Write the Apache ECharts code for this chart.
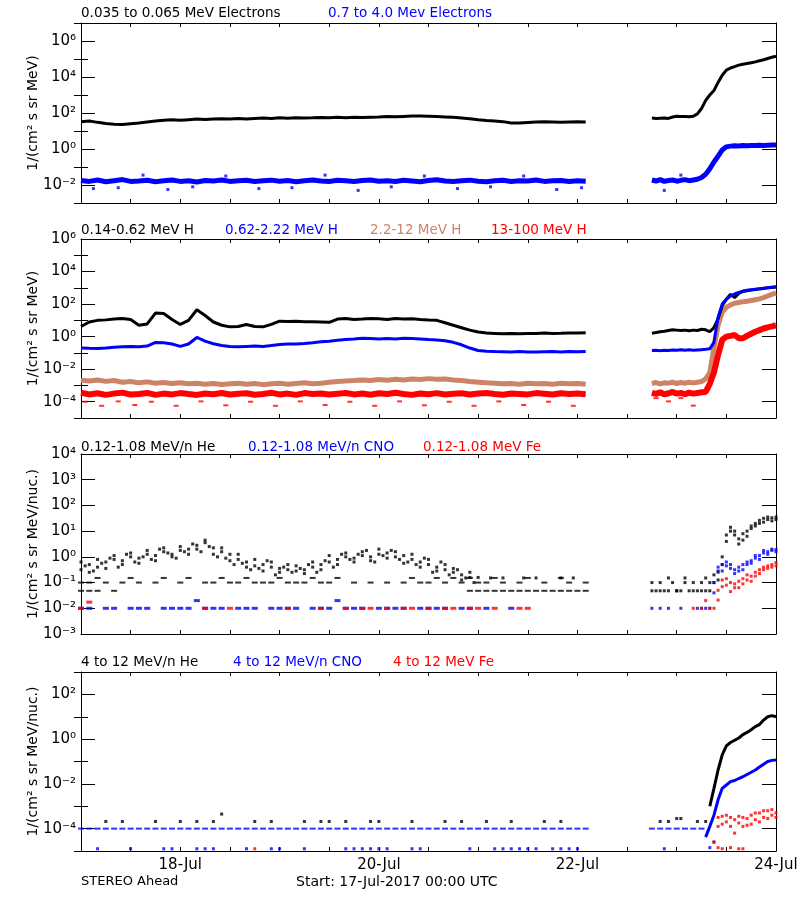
<!DOCTYPE html>
<html><head><meta charset="utf-8">
<script src="https://cdn.jsdelivr.net/npm/echarts@6/dist/echarts.min.js"></script>
<style>html,body{margin:0;padding:0;background:#fff}#c{width:800px;height:900px}</style>
</head><body><div id="c"></div>
<script>
// ---------- time grids (hours since 17-Jul-2017 00:00 UTC) ----------
const T1 = [0,2,4,6,8,10,12,14,16,18,20,22,24,26,28,30,32,34,36,38,40,42,44,46,48,50,52,54,56,58,60,62,64,66,68,70,72,74,76,78,80,82,84,86,88,90,92,94,96,98,100,102,104,106,108,110,112,114,116,118,120,122];
const T1odd = [1,3,5,7,9,11,13,15,17,19,21,23,25,27,29,31,33,35,37,39,41,43,45,47,49,51,53,55,57,59,61,63,65,67,69,71,73,75,77,79,81,83,85,87,89,91,93,95,97,99,101,103,105,107,109,111,113,115,117,119,121];
const T2 = [138,139,140,141,142,143,144,145,146,147,148,149,150,151,152,153,154,155,156,157,158,159,160,161,162,163,164,165,166,167,168];
const xTickLabels = ['18-Jul','20-Jul','22-Jul','24-Jul'];
const xTickHours = [24,72,120,168];

// ---------- values: log10 of flux ----------
// Panel 1: electrons
const e1A = [1.52,1.55,1.48,1.42,1.38,1.36,1.40,1.44,1.50,1.56,
 1.60,1.62,1.60,1.63,1.66,1.64,1.66,1.68,1.66,1.69,
 1.67,1.70,1.72,1.70,1.73,1.71,1.74,1.72,1.73,1.75,
 1.74,1.76,1.74,1.76,1.75,1.77,1.78,1.80,1.79,1.81,
 1.83,1.84,1.82,1.80,1.78,1.76,1.72,1.68,1.62,1.58,
 1.55,1.52,1.45,1.44,1.47,1.50,1.52,1.50,1.48,1.50,
 1.52,1.50];
const e1B = [1.72,1.70,1.71,1.72,1.70,1.78,1.82,1.80,1.81,1.79,
 1.82,1.95,2.25,2.70,3.00,3.25,3.70,4.10,4.38,4.50,
 4.58,4.66,4.71,4.75,4.79,4.84,4.90,4.96,5.03,5.10,
 5.15];
const e2A = [-1.75,-1.80,-1.72,-1.82,-1.76,-1.70,-1.80,-1.78,-1.74,-1.82,
 -1.77,-1.72,-1.80,-1.76,-1.83,-1.75,-1.78,-1.72,-1.80,-1.76,
 -1.74,-1.81,-1.77,-1.73,-1.79,-1.75,-1.82,-1.76,-1.72,-1.78,
 -1.80,-1.74,-1.77,-1.81,-1.75,-1.72,-1.79,-1.76,-1.80,-1.74,
 -1.78,-1.82,-1.75,-1.71,-1.78,-1.80,-1.76,-1.73,-1.79,-1.82,
 -1.77,-1.74,-1.80,-1.76,-1.78,-1.72,-1.80,-1.77,-1.75,-1.81,
 -1.76,-1.79];
const e2B = [-1.72,-1.78,-1.70,-1.80,-1.75,-1.72,-1.79,-1.74,-1.70,-1.76,
 -1.72,-1.68,-1.58,-1.40,-1.10,-0.72,-0.40,-0.05,0.12,0.16,
 0.18,0.17,0.19,0.18,0.20,0.19,0.21,0.20,0.21,0.22,
 0.22];
const e2OutH = [3,9,15,21,27,35,43,51,59,67,75,83,91,99,107,115,121,141,145];
const e2OutV = [-2.2,-2.15,-1.45,-2.25,-2.1,-1.5,-2.2,-2.15,-1.45,-2.3,-2.1,-1.5,-2.2,-2.1,-1.5,-2.25,-2.15,-2.3,-1.45];

// Panel 2: protons
const h1A = [0.62,0.90,1.00,1.03,1.08,1.12,1.05,0.70,0.78,1.45,
 1.42,1.05,0.75,1.00,1.65,1.30,0.90,0.70,0.60,0.62,
 0.75,0.62,0.60,0.75,0.95,0.93,0.95,0.92,0.92,0.90,
 0.88,1.08,1.12,1.05,1.08,1.12,1.10,1.05,1.12,1.08,
 1.10,1.05,1.02,1.00,0.85,0.70,0.55,0.40,0.28,0.22,
 0.20,0.18,0.20,0.17,0.19,0.20,0.22,0.20,0.21,0.23,
 0.22,0.24];
const h1B = [0.21,0.25,0.30,0.33,0.38,0.42,0.40,0.38,0.40,0.36,
 0.40,0.38,0.45,0.42,0.30,0.55,1.10,1.90,2.30,2.60,
 2.40,2.65,2.78,2.82,2.86,2.90,2.93,2.96,3.00,3.02,
 3.05];
const h2A = [-0.70,-0.72,-0.73,-0.70,-0.65,-0.62,-0.60,-0.62,-0.58,-0.36,
 -0.38,-0.45,-0.60,-0.45,-0.05,-0.28,-0.44,-0.55,-0.60,-0.62,
 -0.60,-0.58,-0.60,-0.55,-0.48,-0.46,-0.45,-0.42,-0.38,-0.32,
 -0.28,-0.22,-0.18,-0.15,-0.10,-0.12,-0.15,-0.12,-0.15,-0.10,
 -0.12,-0.15,-0.18,-0.20,-0.25,-0.35,-0.50,-0.70,-0.85,-0.90,
 -0.92,-0.93,-0.95,-0.92,-0.94,-0.95,-0.93,-0.92,-0.94,-0.92,
 -0.93,-0.92];
const h2B = [-0.85,-0.84,-0.86,-0.83,-0.85,-0.82,-0.84,-0.80,-0.83,-0.81,
 -0.84,-0.82,-0.80,-0.78,-0.75,-0.35,1.20,2.00,2.30,2.50,
 2.62,2.72,2.80,2.85,2.88,2.92,2.95,2.98,3.00,3.04,
 3.07];
const h3A = [-2.68,-2.72,-2.66,-2.75,-2.70,-2.80,-2.76,-2.84,-2.78,-2.86,
 -2.82,-2.88,-2.84,-2.90,-2.86,-2.92,-2.88,-2.94,-2.90,-2.86,
 -2.92,-2.88,-2.95,-2.90,-2.86,-2.92,-2.88,-2.84,-2.90,-2.86,
 -2.80,-2.76,-2.72,-2.70,-2.66,-2.70,-2.64,-2.68,-2.62,-2.66,
 -2.60,-2.64,-2.58,-2.62,-2.60,-2.66,-2.70,-2.76,-2.80,-2.84,
 -2.86,-2.90,-2.88,-2.92,-2.86,-2.90,-2.88,-2.92,-2.86,-2.90,
 -2.88,-2.92];
const h3B = [-2.88,-2.82,-2.90,-2.84,-2.86,-2.80,-2.88,-2.82,-2.86,-2.80,
 -2.84,-2.80,-2.76,-2.60,-2.20,-0.70,0.70,1.50,1.80,1.95,
 2.05,2.10,2.15,2.18,2.22,2.27,2.32,2.40,2.50,2.60,
 2.69];
const h4A = [-3.45,-3.55,-3.48,-3.58,-3.50,-3.44,-3.56,-3.52,-3.46,-3.58,
 -3.50,-3.55,-3.47,-3.53,-3.58,-3.49,-3.54,-3.46,-3.56,-3.51,
 -3.48,-3.57,-3.52,-3.45,-3.55,-3.50,-3.58,-3.47,-3.53,-3.49,
 -3.56,-3.51,-3.46,-3.55,-3.50,-3.57,-3.48,-3.53,-3.45,-3.52,
 -3.58,-3.49,-3.54,-3.47,-3.56,-3.51,-3.48,-3.55,-3.50,-3.46,
 -3.53,-3.57,-3.49,-3.52,-3.55,-3.47,-3.51,-3.56,-3.48,-3.53,
 -3.50,-3.54];
const h4B = [-3.45,-3.52,-3.42,-3.55,-3.48,-3.40,-3.50,-3.46,-3.54,-3.44,
 -3.50,-3.46,-3.42,-3.40,-2.90,-2.20,-1.12,-0.20,0.00,0.05,
 0.10,-0.10,-0.10,0.05,0.18,0.30,0.40,0.50,0.57,0.63,
 0.70];
const h4OutH = [1,5,9,13,17,23,29,35,41,47,53,59,65,71,77,83,89,95,101,107,113,119,139,142,145,148];
const h4OutV = [-4.0,-4.25,-3.98,-4.2,-4.0,-4.25,-3.98,-4.22,-4.0,-4.25,-3.98,-4.2,-4.0,-4.25,-3.98,-4.22,-4.0,-4.25,-3.98,-4.2,-4.0,-4.25,-3.78,-3.98,-3.78,-4.24];

// Panel 3: 0.12-1.08 MeV/n ions
const heA = [-0.50,-0.30,-0.40,-0.20,-0.10,-0.15,0.00,-0.05,0.10,0.05,
 0.20,0.10,0.25,0.30,0.45,0.55,0.35,0.20,0.10,-0.10,
 -0.20,-0.35,-0.30,-0.40,-0.45,-0.50,-0.55,-0.50,-0.40,-0.30,
 -0.20,-0.10,0.00,-0.05,0.05,0.00,0.10,0.15,0.20,0.05,
 -0.10,-0.20,-0.30,-0.40,-0.50,-0.60,-0.70,-0.80,null,null,
 null,null,null,null,null,null,null,null,null,null,
 null,null];
const heB = [-0.20,-0.60,-0.10,-0.45,0.05,-0.30,0.15,-0.25,0.25,-0.15,
 0.35,0.00,0.40,0.10,0.30,0.65,0.10,0.35,-0.15,0.10,
 -0.40,-0.10,-0.55,-0.20,-0.60,-0.30,-0.35,-0.65,-0.20,-0.50,
 0.05,-0.30,0.15,-0.20,0.20,-0.15,0.30,-0.05,0.00,-0.25,
 0.10,-0.40,-0.10,-0.55,-0.30,-0.45,-0.90,-0.60,-0.80,null,
 null,-0.82,null,null,null,-0.82,null,null,-0.82,null,
 null,null];
const heC = [-0.35,-0.55,-0.25,-0.05,-0.40,0.10,-0.20,0.00,-0.10,0.30,
 0.15,-0.05,0.20,0.50,0.20,0.40,0.00,-0.05,-0.30,-0.25,
 -0.50,-0.45,-0.15,-0.70,-0.40,-0.60,-0.45,-0.30,-0.60,-0.15,
 -0.40,0.10,-0.10,0.10,0.25,-0.20,0.05,0.25,-0.10,-0.20,
 -0.30,-0.05,-0.60,-0.20,-0.70,-0.50,-0.82,-1.00,null,-0.82,
 null,null,null,-0.82,null,null,null,null,null,-0.82,
 null];
const heLowA = [-1.00,-1.00,-0.82,-1.00,null,-1.00,-0.82,-1.00,null,-1.00,
 -0.82,null,-1.00,-0.82,null,-1.00,-1.00,-0.82,-1.00,-1.00,
 -0.82,-1.00,-1.00,-1.00,-0.82,-1.00,-1.00,-1.00,-0.82,-1.00,
 -1.00,-0.82,null,-1.00,null,-1.00,null,-1.00,null,-1.00,
 -0.82,-1.00,-1.00,-0.82,-1.00,-0.82,-1.00,-0.82,-1.00,-1.32,
 -1.32,-1.32,-1.32,-1.32,-1.32,-1.32,-1.32,-1.32,-1.32,-1.32,
 -1.32,-1.32];
const heLowB = [-1.32,-1.32,-1.32,null,-1.32,null,null,null,null,null,
 null,null,null,null,null,null,null,null,null,null,
 null,null,null,null,null,null,null,null,null,null,
 null,null,null,null,null,null,null,null,null,null,
 null,null,null,null,null,null,null,-1.32,-1.32,-1.00,
 -0.82,-1.00,null,-1.00,-0.82,null,-1.00,null,-0.82,-1.00,
 null,-1.00];
const cnoA = [-2,-2,null,-2,-2,null,-2,-2,-2,null,
 -2,-2,-2,-2,-1.7,-2,-2,-2,null,-2,
 -2,-2,null,-2,-2,-2,-2,null,-2,-2,
 -2,-1.7,-2,-2,-2,null,-2,-2,-2,-2,
 null,-2,-2,-2,-2,null,-2,-2,null,-2,
 null,null,-2,null,null,null,null,null,null,null,
 null,null];
const feA = [-2,-1.76,null,null,null,null,null,null,null,null,
 null,null,null,null,null,-2,null,null,-2,null,
 null,null,null,null,null,-2,null,null,null,-2,
 null,null,-2,null,-2,-2,null,-2,null,-2,
 -2,null,-2,null,-2,-2,null,-2,-2,null,
 -2,null,null,-2,-2,null,null,null,null,null,
 null,null];
const heA2 = [-1.32,-1.32,-1.00,-1.32,-1.32,-1.00,-1.32,-1.32,-1.00,-1.32,
 -1.32,-1.32,-1.00,-1.32,-1.00,-1.00,-0.55,0.00,0.85,1.15,
 1.00,0.70,0.65,1.00,1.10,1.30,1.42,1.50,1.45,1.52,
 1.55];
const heB2 = [-1.00,null,-1.32,null,-0.82,null,-1.32,null,-0.82,null,
 -1.00,null,-1.32,-0.82,-1.32,-0.70,-0.90,-0.30,0.60,1.00,
 0.85,0.50,0.90,0.80,1.20,1.20,1.30,1.35,1.55,1.40,
 1.45];
const cnoA2 = [-2,null,-2,null,-2,null,null,-2,null,null,
 null,-2,-2,-2,-2,-1.40,-0.60,-0.30,-0.20,-0.45,
 -0.50,-0.40,-0.30,-0.20,-0.15,-0.05,0.05,0.15,0.20,0.25,
 0.28];
const cnoB2 = [null,null,null,null,null,null,null,null,null,null,
 null,null,null,null,null,-1.00,-0.40,-0.55,-0.35,-0.30,
 -0.65,-0.55,-0.50,-0.30,-0.25,0.05,-0.10,0.25,0.10,0.30,
 0.20];
const feA2 = [null,null,null,null,null,null,null,null,null,null,
 -2,null,-2,-1.70,-2,-2,-1.68,-1.16,-0.85,-1.00,
 -1.20,-0.95,-0.85,-0.90,-0.75,-0.60,-0.50,-0.40,-0.35,-0.30,
 -0.22];
const feB2 = [null,null,null,null,null,null,null,null,null,null,
 null,null,null,null,null,null,-1.30,-0.90,-1.10,-1.35,
 -1.05,-1.20,-1.05,-0.70,-0.95,-0.75,-0.65,-0.50,-0.45,-0.40,
 -0.35];

// Panel 4: 4-12 MeV/n ions
const he4Floor = [null,null,null,-3.68,null,-3.68,null,null,null,-3.68,
 null,null,-3.68,null,-3.68,null,-3.68,-3.35,null,null,
 null,-3.68,null,-3.68,null,null,null,-3.68,null,-3.68,
 -3.68,null,-3.68,null,null,-3.68,-3.68,null,null,null,
 -3.68,null,null,null,-3.68,null,-3.68,null,null,-3.68,
 null,null,-3.68,null,null,null,-3.68,null,-3.68,null,
 null,null];
const he4FloorH2 = [140,142,144,145,149,151];
const he4FloorV2 = [-3.68,-3.68,-3.55,-3.55,-3.68,-3.68];
const he4Line = [null,null,null,null,null,null,null,null,null,null,
 null,null,null,null,-3.00,-2.20,-1.38,-0.70,-0.30,-0.15,
 -0.05,0.05,0.20,0.30,0.42,0.56,0.65,0.85,1.00,1.05,
 1.00];
const cno4Floor = [-4,-4,-4,-4,-4,-4,-4,-4,-4,-4,
 -4,-4,-4,-4,-4,-4,-4,-4,-4,-4,
 -4,-4,-4,-4,-4,-4,-4,-4,-4,-4,
 -4,-4,-4,-4,-4,-4,-4,-4,-4,-4,
 -4,-4,-4,-4,-4,-4,-4,-4,-4,-4,
 -4,-4,-4,-4,-4,-4,-4,-4,-4,-4,
 -4,-4];
const cno4FloorH2 = [138,140,142,144,146,148,150];
const cno4FloorV2 = [-4,-4,-4,-4,-4,-4,-4];
const cno4Line = [null,null,null,null,null,null,null,null,null,null,
 null,null,null,-4.38,-3.90,-3.40,-2.71,-2.20,-2.05,-1.90,
 -1.85,-1.76,-1.68,-1.58,-1.48,-1.38,-1.25,-1.12,-1.00,-0.95,
 -0.93];
const cno4LowH = [4,12,20,22,28,30,32,40,46,48,54,64,66,68,70,72,74,80,82,94,100,102,104,106,108,110,114,116,118,120,141,152,153];
const cno4LowV = [-4.9,-4.9,-4.9,-4.9,-4.9,-4.9,-4.9,-4.9,-4.9,-4.9,-4.9,-4.9,-4.9,-4.9,-4.9,-4.9,-4.9,-4.9,-4.9,-4.9,-4.9,-4.9,-4.9,-4.9,-4.9,-4.9,-4.9,-4.9,-4.9,-4.9,-4.9,-4.85,-4.6];
const fe4A2 = [null,null,null,null,null,null,null,null,null,null,
 null,null,null,null,null,-4.60,-3.50,-3.80,-3.40,-3.90,
 -3.60,-3.75,-3.50,-3.85,-3.40,-3.60,-3.30,-3.50,-3.20,-3.40,
 -3.30];
const fe4B2 = [null,null,null,null,null,null,null,null,null,null,
 null,null,null,null,null,null,-3.90,-3.45,-3.70,-3.50,
 -4.20,-3.45,-3.90,-3.55,-3.80,-3.30,-3.70,-3.20,-3.55,-3.15,
 -3.50];
const fe4LowH = [42,154,155,157,159,160];
const fe4LowV = [-4.9,-4.85,-4.9,-4.85,-4.9,-4.9];

// ---------- chart ----------
const FONT = 'DejaVu Sans';
const BLUE = '#0000ff', RED = '#ff0000', TAN = '#cd8466', BLACK = '#000000';
const SUP = {'0':'\u2070','1':'\u00b9','2':'\u00b2','3':'\u00b3','4':'\u2074','5':'\u2075','6':'\u2076','7':'\u2077','8':'\u2078','9':'\u2079','-':'\u207b'};
const powLabel = v => '10' + String(Math.round(v)).split('').map(c => SUP[c]).join('');
const xLabel = v => { const i = xTickHours.indexOf(Math.round(v)); return i >= 0 ? xTickLabels[i] : ''; };

const PANELS = [
  {top: 23, height: 180, lo: -3, hi: 7, major: [-2,0,2,4,6], minor: [-3,-1,1,3,5,7], name: '1/(cm\u00b2 s sr MeV)'},
  {top: 239, height: 179, lo: -5, hi: 6, major: [-4,-2,0,2,4,6], minor: [-5,-3,-1,1,3,5], name: '1/(cm\u00b2 s sr MeV)'},
  {top: 454, height: 180, lo: -3, hi: 4, major: [-3,-2,-1,0,1,2,3,4], minor: [], name: '1/(cm\u00b2 s sr MeV/nuc.)'},
  {top: 672, height: 179, lo: -5, hi: 3, major: [-4,-2,0,2], minor: [-5,-3,-1,1,3], name: '1/(cm\u00b2 s sr MeV/nuc.)'}
];

const grid = [], xAxis = [], yAxis = [];
PANELS.forEach((p, i) => {
  grid.push({left: 81, right: 24, top: p.top, height: p.height, containLabel: false, outerBoundsMode: 'none'});
  const xBase = {type: 'value', gridIndex: i, min: 0, max: 168, interval: 12,
    axisLine: {show: true, onZero: false, lineStyle: {color: BLACK, width: 1}},
    axisTick: {show: true, inside: true, length: 4, lineStyle: {color: BLACK}},
    splitLine: {show: false}};
  xAxis.push(Object.assign({}, xBase, {position: 'bottom',
    axisLabel: {show: i === 3, formatter: xLabel, color: BLACK, fontSize: 15, fontFamily: FONT, margin: 7, showMinLabel: true, showMaxLabel: true}}));
  xAxis.push(Object.assign({}, xBase, {position: 'top', axisLabel: {show: false}}));
  const yBase = {type: 'value', gridIndex: i, min: p.lo, max: p.hi, interval: 1, splitLine: {show: false}};
  ['left', 'right'].forEach(side => {
    yAxis.push(Object.assign({}, yBase, {position: side,
      axisLine: {show: true, onZero: false, lineStyle: {color: BLACK, width: 1}},
      axisTick: {show: true, inside: true, length: 14, customValues: p.major, lineStyle: {color: BLACK}},
      axisLabel: side === 'left' ? {show: true, customValues: p.major, formatter: powLabel, color: BLACK, fontSize: 15, fontFamily: FONT, margin: 5} : {show: false},
      name: side === 'left' ? p.name : '', nameLocation: 'middle', nameGap: 41, nameRotate: 90, nameMoveOverlap: false,
      nameTextStyle: {color: BLACK, fontSize: 14, fontFamily: FONT}}));
    yAxis.push(Object.assign({}, yBase, {position: side,
      axisLine: {show: false},
      axisTick: {show: p.minor.length > 0, inside: true, length: 7, customValues: p.minor.length ? p.minor : [p.lo], lineStyle: {color: BLACK}},
      axisLabel: {show: false}}));
  });
});

function lineData(A, B) {
  const d = T1.map((t, k) => [t, A[k] === null ? '-' : A[k]]);
  d.push([130, '-']);
  T2.forEach((t, k) => d.push([t, B[k] === null ? '-' : B[k]]));
  return d;
}
function pts(T, V) { const d = []; T.forEach((t, k) => { if (V[k] !== null && V[k] !== undefined) d.push([t, V[k]]); }); return d; }

function lineS(g, data, color, width) {
  return {type: 'line', xAxisIndex: 2 * g, yAxisIndex: 4 * g, data, symbol: 'none', showSymbol: false,
    connectNulls: false, lineStyle: {color, width}, itemStyle: {color}, animation: false, silent: true};
}
function dotS(g, data, color, size) {
  return {type: 'scatter', xAxisIndex: 2 * g, yAxisIndex: 4 * g, data, symbol: 'rect', symbolSize: size,
    itemStyle: {color}, animation: false, silent: true};
}

const series = [
  // panel 1
  lineS(0, lineData(e2A, e2B), BLUE, 5),
  dotS(0, pts(e2OutH, e2OutV), BLUE, [3, 3]),
  lineS(0, lineData(e1A, e1B), BLACK, 3),
  // panel 2
  lineS(1, lineData(h3A, h3B), TAN, 5),
  lineS(1, lineData(h4A, h4B), RED, 6),
  dotS(1, pts(h4OutH, h4OutV), RED, [5, 2]),
  lineS(1, lineData(h1A, h1B), BLACK, 3),
  lineS(1, lineData(h2A, h2B), BLUE, 3),
  // panel 3
  dotS(2, pts(T1, heA).concat(pts(T1, heB), pts(T1odd, heC), pts(T2, heA2), pts(T2, heB2)), BLACK, [3, 3]),
  dotS(2, pts(T1, heLowA).concat(pts(T1, heLowB)), BLACK, [6, 2]),
  dotS(2, pts(T1, cnoA), BLUE, [6, 3]),
  dotS(2, pts(T2, cnoA2).concat(pts(T2, cnoB2)), BLUE, [3, 3]),
  dotS(2, pts(T1, feA), RED, [6, 3]),
  dotS(2, pts(T2, feA2).concat(pts(T2, feB2)), RED, [3, 3]),
  // panel 4
  dotS(3, pts(T1, cno4Floor).concat(pts(cno4FloorH2, cno4FloorV2)), BLUE, [6, 2]),
  dotS(3, pts(cno4LowH, cno4LowV), BLUE, [3, 3]),
  dotS(3, pts(T1, he4Floor).concat(pts(he4FloorH2, he4FloorV2)), BLACK, [3, 3]),
  lineS(3, lineData(T1.map(() => null), he4Line), BLACK, 3),
  lineS(3, lineData(T1.map(() => null), cno4Line), BLUE, 3),
  dotS(3, pts(T2, fe4A2).concat(pts(T2, fe4B2), pts(fe4LowH, fe4LowV)), RED, [3, 3])
];

function ttl(text, left, top, color, size) {
  return {text, left, top, padding: 0, textStyle: {color, fontSize: size || 13.5, fontWeight: 'normal', fontFamily: FONT}};
}
const title = [
  ttl('0.035 to 0.065 MeV Electrons', 81, 6, BLACK),
  ttl('0.7 to 4.0 Mev Electrons', 328, 6, BLUE),
  ttl('0.14-0.62 MeV H', 81, 223, BLACK),
  ttl('0.62-2.22 MeV H', 225, 223, BLUE),
  ttl('2.2-12 MeV H', 370, 223, TAN),
  ttl('13-100 MeV H', 491, 223, RED),
  ttl('0.12-1.08 MeV/n He', 81, 440, BLACK),
  ttl('0.12-1.08 MeV/n CNO', 248, 440, BLUE),
  ttl('0.12-1.08 MeV Fe', 423, 440, RED),
  ttl('4 to 12 MeV/n He', 81, 655, BLACK),
  ttl('4 to 12 MeV/n CNO', 233, 655, BLUE),
  ttl('4 to 12 MeV Fe', 393, 655, RED),
  ttl('STEREO Ahead', 81, 875, BLACK, 13),
  ttl('Start: 17-Jul-2017 00:00 UTC', 296, 875, BLACK, 14)
];

const chart = echarts.init(document.getElementById('c'), null, {renderer: 'canvas'});
chart.setOption({backgroundColor: '#ffffff', animation: false, title, grid, xAxis, yAxis, series});
</script></body></html>
